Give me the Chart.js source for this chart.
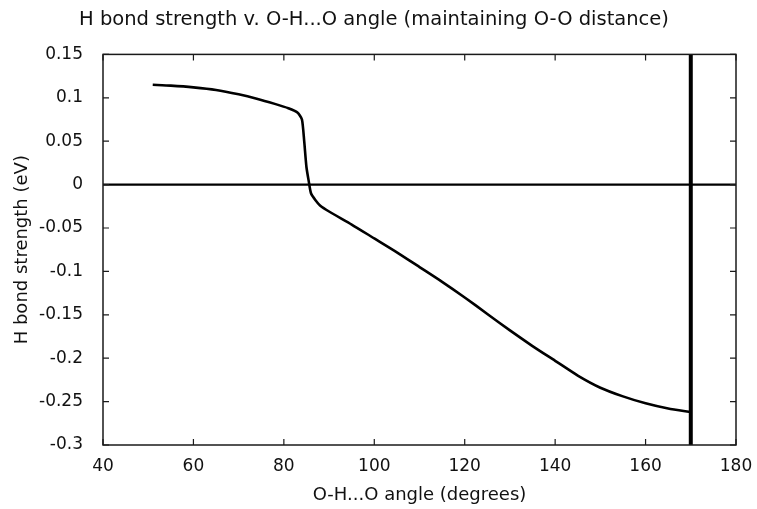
<!DOCTYPE html>
<html>
<head>
<meta charset="utf-8">
<script src="https://cdn.jsdelivr.net/npm/chart.js@4.4.1/dist/chart.umd.min.js"></script>
<style>
  html, body { margin: 0; padding: 0; background: #fff; }
  #wrap { width: 757px; height: 509px; }
</style>
</head>
<body>
<div id="wrap"><canvas id="hbondChart" width="757" height="509"></canvas></div>
<script>
// O-H...O angle (degrees) and H bond strength (eV)
const angles = [51, 55, 60, 65, 70, 74, 78, 81, 83, 84, 84.5, 85, 85.5, 86, 87, 88, 90, 95,
                100, 105, 110, 115, 120, 125, 130, 135, 140, 145, 150, 155, 160, 165, 170];
const strength = [0.115, 0.114, 0.112, 0.109, 0.104, 0.099, 0.093, 0.088, 0.083, 0.075, 0.05,
                  0.02, 0.004, -0.01, -0.018, -0.024, -0.031, -0.046, -0.062, -0.078, -0.095,
                  -0.112, -0.13, -0.149, -0.168, -0.186, -0.203, -0.22, -0.234, -0.244, -0.252,
                  -0.258, -0.262];

// reference lines: zero level and the 170 degree marker
const zeroX = [40, 180];
const zeroY = [0, 0];
const markerX = [170, 170];
const markerY = [-0.3, 0.15];

const xTicks = [40, 60, 80, 100, 120, 140, 160, 180];
const yTicks = [0.15, 0.1, 0.05, 0, -0.05, -0.1, -0.15, -0.2, -0.25, -0.3];

const toPoints = (xs, ys) => xs.map((x, i) => ({ x: x, y: ys[i] }));
const FONT = "'DejaVu Sans', 'Liberation Sans', sans-serif";

// gnuplot-like box with inward ticks on all four sides
const frame = {
    id: 'frame',
    afterDatasetsDraw(chart) {
        const { ctx, chartArea: a, scales } = chart;
        const len = 6;
        ctx.save();
        ctx.strokeStyle = '#1a1a1a';
        ctx.lineWidth = 1.5;
        ctx.strokeRect(a.left, a.top, a.right - a.left, a.bottom - a.top);
        ctx.lineWidth = 1.2;
        ctx.beginPath();
        xTicks.forEach(v => {
            const px = scales.x.getPixelForValue(v);
            ctx.moveTo(px, a.bottom); ctx.lineTo(px, a.bottom - len);
            ctx.moveTo(px, a.top); ctx.lineTo(px, a.top + len);
        });
        yTicks.forEach(v => {
            const py = scales.y.getPixelForValue(v);
            ctx.moveTo(a.left, py); ctx.lineTo(a.left + len, py);
            ctx.moveTo(a.right, py); ctx.lineTo(a.right - len, py);
        });
        ctx.stroke();
        ctx.restore();
    }
};

new Chart(document.getElementById('hbondChart'), {
    type: 'line',
    data: {
        datasets: [
            {
                data: toPoints(angles, strength),
                borderColor: '#000', borderWidth: 2.6,
                pointRadius: 0, tension: 0.2
            },
            {
                data: toPoints(zeroX, zeroY),
                borderColor: '#000', borderWidth: 2.4, pointRadius: 0
            },
            {
                data: toPoints(markerX, markerY),
                borderColor: '#000', borderWidth: 4, pointRadius: 0
            }
        ]
    },
    options: {
        responsive: false,
        animation: false,
        layout: { padding: { left: 12, right: 21, top: 0, bottom: 0 } },
        plugins: {
            legend: { display: false },
            tooltip: { enabled: false },
            title: {
                display: true,
                text: 'H bond strength v. O-H...O angle (maintaining O-O distance)',
                color: '#111',
                font: { family: FONT, size: 19.5, weight: 'normal' },
                padding: { top: 8, bottom: 23 }
            }
        },
        scales: {
            x: {
                type: 'linear',
                min: 40, max: 180,
                afterBuildTicks: s => { s.ticks = xTicks.map(v => ({ value: v })); },
                afterFit: s => { s.height = 64; s.paddingLeft = 0; s.paddingRight = 0; },
                grid: { display: false, drawTicks: false },
                border: { display: false },
                ticks: {
                    color: '#111', padding: 11,
                    font: { family: FONT, size: 17 },
                    maxRotation: 0
                },
                title: {
                    display: true,
                    text: 'O-H...O angle (degrees)',
                    color: '#111',
                    font: { family: FONT, size: 18 },
                    padding: { top: 0, bottom: 3 }
                }
            },
            y: {
                type: 'linear',
                min: -0.3, max: 0.15,
                afterBuildTicks: s => { s.ticks = yTicks.map(v => ({ value: v })); },
                afterFit: s => { s.width = 91; },
                grid: { display: false, drawTicks: false },
                border: { display: false },
                ticks: {
                    color: '#111', padding: 20,
                    font: { family: FONT, size: 17 },
                    callback: v => String(Number(v.toFixed(2)))
                },
                title: {
                    display: true,
                    text: 'H bond strength (eV)',
                    color: '#111',
                    font: { family: FONT, size: 18 },
                    padding: { top: 0, bottom: 0 }
                }
            }
        }
    },
    plugins: [frame]
});
</script>
</body>
</html>
